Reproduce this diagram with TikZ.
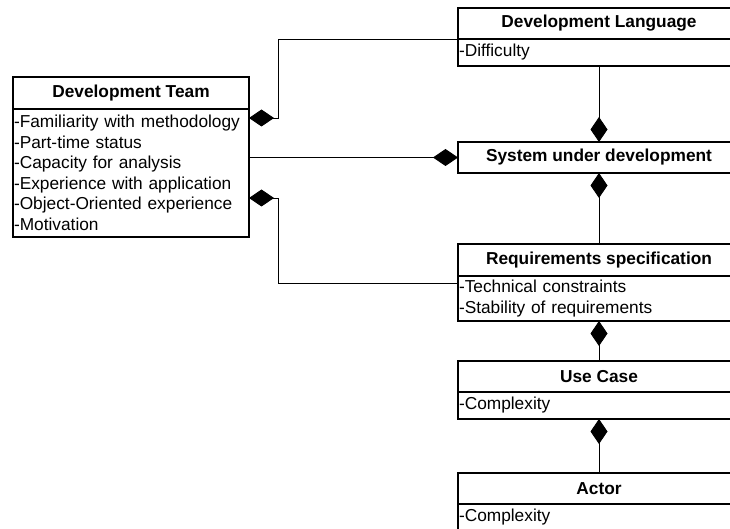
\documentclass[tikz,border=0pt]{standalone}
\usepackage{fontspec}
\setmainfont{Liberation Sans}
\usetikzlibrary{positioning,arrows.meta}

\begin{document}
\begin{tikzpicture}[x=1pt, y=-1pt,
    base/.style = {rectangle, draw=black, line width=1.5pt, outer sep=0pt,
fill=white, font=\fontsize{17.3}{20.5}\selectfont},
    classhead/.style = {base, minimum width=282pt, minimum height=31pt,
font=\fontsize{17.3}{20.5}\selectfont\bfseries},
    classattr/.style = {base, text width=280pt, inner xsep=1pt, inner ysep=2pt,
align=left, minimum height=27pt},
    comp/.style = {arrows={Diamond[length=25pt, width=17pt]-}, line width=0.9pt, draw=black},
node distance=0pt
]

  \useasboundingbox (0,0) rectangle (730,529);
  \clip (0,0) rectangle (730,529);

  \node (dlhead) [classhead] at (599,23.5) {Development Language};
  \node (dlattr) [classattr, below=of dlhead] {-Difficulty};

  \node (syshead) [classhead] at (599,157.5) {System under development};

  \node (rqhead) [classhead, minimum height=32pt] at (599,260) {Requirements specification};
  \node (rqattr) [classattr, below=of rqhead, minimum height=45pt] {-Technical constraints\\-Stability of requirements};

  \node (uchead) [classhead] at (599,376.5) {Use Case};
  \node (ucattr) [classattr, below=of uchead] {-Complexity};

  \node (achead) [classhead] at (599,488.5) {Actor};
  \node (acattr) [classattr, below=of achead] {-Complexity};

  \node (dthead) [classhead, minimum width=236pt, minimum height=32pt] at (131,93) {Development Team};
  \node (dtattr) [classattr, below=of dthead, text width=234pt, minimum height=128pt]
    {-Familiarity with methodology\\-Part-time status\\-Capacity for analysis\\-Experience with application\\-Object-Oriented experience\\-Motivation};

  \draw[comp] ([yshift=-9pt]dtattr.north east) -- ++(29,0) |- (dlattr.north west);
  \draw[comp] (syshead.west) -- (syshead.west -| dtattr.east);
  \draw[comp] ([yshift=-89pt]dtattr.north east) -- ++(29,0) |- ([yshift=-7pt]rqattr.north west);

  \draw[comp] (syshead.north) -- (dlattr.south);
  \draw[comp] (syshead.south) -- (rqhead.north);
  \draw[comp] (rqattr.south) -- (uchead.north);
  \draw[comp] (ucattr.south) -- (achead.north);

\end{tikzpicture}
\end{document}
